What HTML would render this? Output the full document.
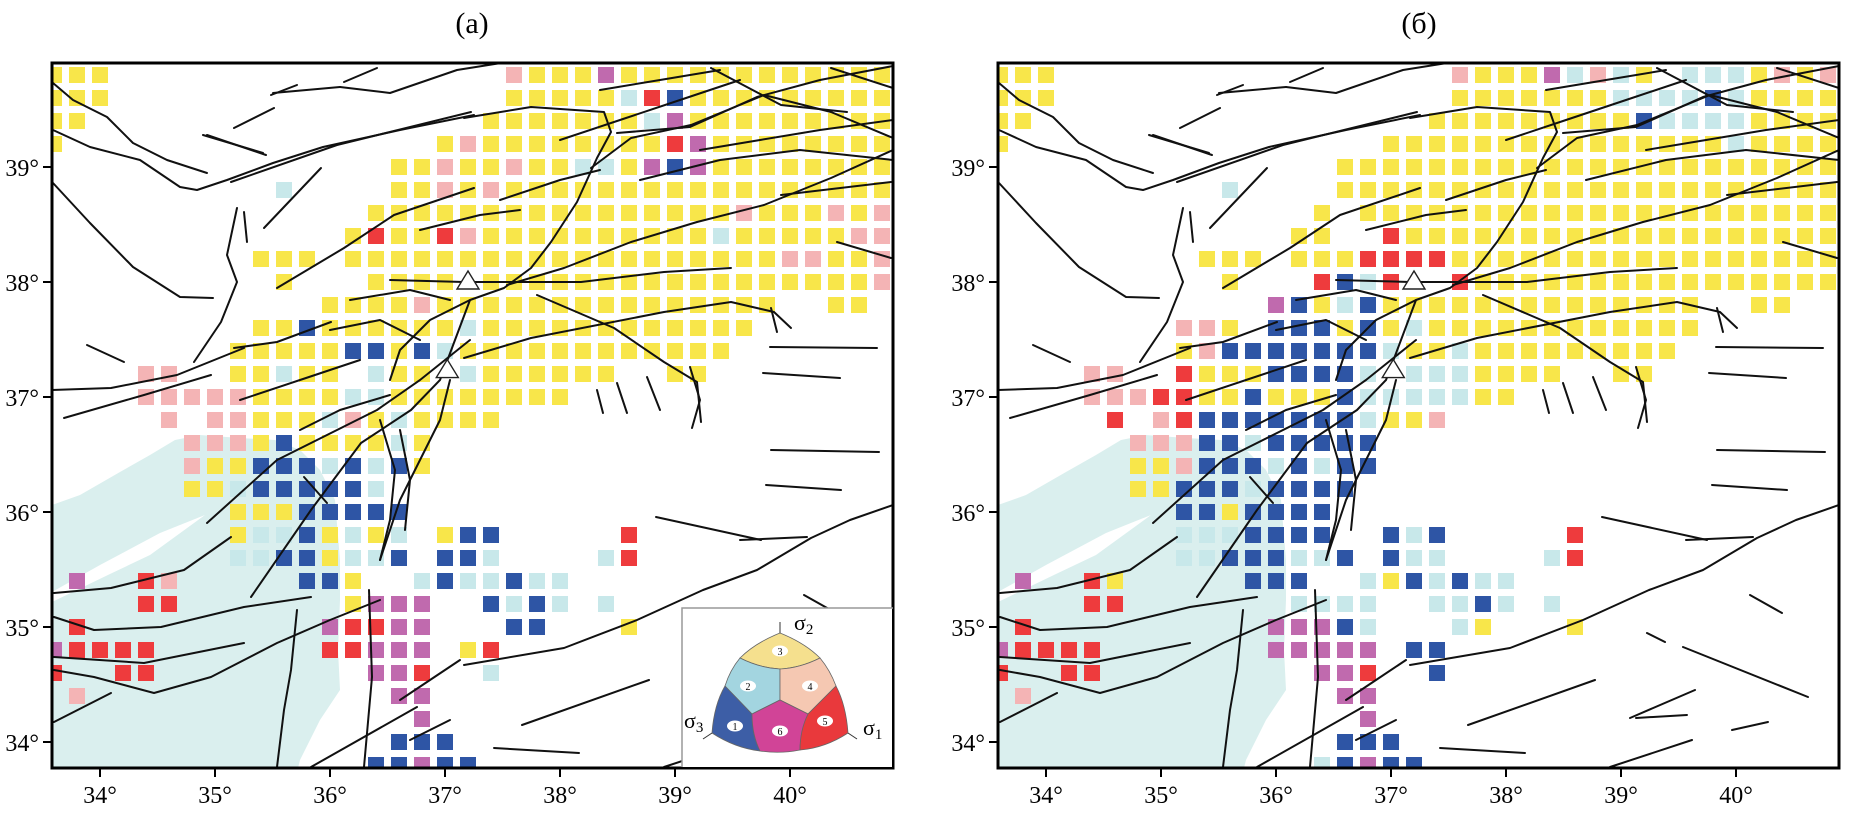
<!DOCTYPE html>
<html><head><meta charset="utf-8"><style>
html,body{margin:0;padding:0;background:#fff;}
svg{display:block;font-family:"Liberation Serif",serif;}
</style></head><body>
<svg id="chart" xmlns="http://www.w3.org/2000/svg" width="1855" height="813" viewBox="0 0 1855 813">
<defs>
<clipPath id="clipA"><rect x="52" y="63" width="841" height="705"/></clipPath>
<clipPath id="clipB"><rect x="998" y="63" width="841" height="705"/></clipPath>
</defs>
<text x="472" y="33" font-size="30" text-anchor="middle">(а)</text>
<text x="1419" y="33" font-size="30" text-anchor="middle">(б)</text>
<g id="panelA" clip-path="url(#clipA)"></g>
<g id="panelB" clip-path="url(#clipB)"></g>
<g id="axes"></g>
</svg>
<script>
// ---- data ----
const lonStart = 33.6;
const lonStep = 0.2;
const lats = [39.8,39.6,39.4,39.2,39.0,38.8,38.6,38.4,38.2,38.0,37.8,37.6,37.4,37.2,37.0,36.8,36.6,36.4,36.2,36.0,35.8,35.6,35.4,35.2,35.0,34.8,34.6,34.4,34.2,34.0,33.8];
// codes: B blue, L light cyan, Y yellow, P pink, R red, M magenta
const rowsA = [
"YYY.................PYYYMYYYYYYYYYYYY",
"YYY.................YYYYYLRBYYYYYYYYY",
"YY.................YYYYYYYLMYYYYYYYYY",
"Y................YPYYYYYYYYRMYYYYYYYY",
"...............YYPYYPYYLLYMBMYYYYYYYY",
"..........L....YYPYPYYYYYYYYYYYYYYYYY",
"..............YYYYYYYYYYYYYYYYPYYYPYP",
".............YRYYRPYYYYYYYYYYLYYYYYPP",
".........YYY.YYYYYYYYYYYYYYYYYYYPPYYP",
"..........Y...YYYY.YYYYYYYYYYYYYYYYYP",
"............YYYYPYYYYYYYYYYYYYYY..YY.",
".........YYBYYYYYYLYYYYYYYYYYYY......",
"........YYYYYBBYBLYYYYYYYYYYYY.......",
"....PP..YYLYY.LYY.LYYYYYY..YY........",
"....PPPPPYYYYLLYYYYYYYY..............",
".....P.PPYYYLPYLYYYY.................",
"......PPPYBYYYYLY....................",
"......PYYBBBLBLBY....................",
"......YYLBBBBBL......................",
"........YYYBBBBB.....................",
"........YLLBYLYL.YBB.....R...........",
"........LLBBYLLB.BBL....LR...........",
".M..RP.....BBY..LBLLBLL..............",
"....RR.......YMMM..BLBL.L............",
".R..........MRRMM...BB...Y...........",
"MRRRR.......RRMMM.YR.................",
"R..RR.........MMR..L.................",
".P.............MM....................",
"................M....................",
"...............BBB...................",
"..............BBMBB.................."
];
const rowsB = [
"YYY.................PYYYMLPLY.LLLYPYP",
"YYY.................YYYYYYYLLLLBLYYYY",
"YY.................YYYYYYYYYBLLLLYYYY",
"Y................YYYYYYYYYYYYYYYLYYYY",
"...............YYYYYYYYYYYYYYYYYYYYYY",
"..........L....YYYYYYYYYYYYYYYYYYYYYY",
"..............Y.YYYYYYYYYYYYYYYYYYYYY",
".............YY..RYYYYYYYYYYYYYYYYYYY",
".........YYY.YYYRRRRYYYYYYYYYYYYYYYYY",
"..........Y...RBLR..RYYYYYYYYYYYYYYYY",
"............MBYLBYYYYYYYYYYYYYY..YY..",
"........PPY.BBBYBYLYYYYYYYYYYYY......",
"........YPBBBBBBBLYYLYYYYYYYYY.......",
"....PP..RYYYBBBBL.LLLYYYY..YY........",
"....PPPRRYYBYYYBLLLLLYY..............",
".....R.PRBBBBBBBLYYP.................",
"......PPPBBLBBBBB....................",
"......YYPBBBLBLBB....................",
"......YYBBBLBBBB.....................",
"........BBYBBBB......................",
"........LLLBBBB..BLB.....R...........",
"........LLBBBLLB.BLL....LR...........",
".M..RY.....BBB..LYBLBLL..............",
"....RR.......LLLL..LLBL.L............",
".R..........MMMBL...LY...Y...........",
"MRRRR.......MMMMM.BB.................",
"R..RR.........MMR..B.................",
".P.............MM....................",
"................M....................",
"...............BBB...................",
"..............LBMBB.................."
];
const xTicks = [34,35,36,37,38,39,40];
const yTicks = [34,35,36,37,38,39];
const stations = [[37.2,38.0],[37.02,37.23]];
const colors = {B:"#2e55a5",L:"#c8e8ea",Y:"#f8e64a",P:"#f4b4b5",R:"#ee3b3d",M:"#c06aae"};

const panels = [{off:0,g:"panelA",name:"a"},{off:946,g:"panelB",name:"b"}];
function xS(lon,off){return 514+(lon-37.6)*115+off;}
function yS(lat){return 167+(39-lat)*115;}
const NS="http://www.w3.org/2000/svg";
function mk(tag,attrs,parent){const e=document.createElementNS(NS,tag);for(const k in attrs)e.setAttribute(k,attrs[k]);parent.appendChild(e);return e;}

const faults = [
[[53,83],[73,100],[107,117],[133,143],[167,160],[207,173]],
[[53,130],[90,147],[140,160],[180,187],[197,190],[227,180],[273,163],[323,147],[400,130],[474,115]],
[[53,183],[90,223],[133,267],[180,297],[213,298]],
[[237,208],[227,255],[237,282],[221,322],[194,362]],
[[244,212],[247,242]],[[264,228],[321,168]],[[207,135],[266,155]],
[[231,182],[337,145],[471,112]],[[234,128],[274,108]],[[271,95],[297,85]],[[344,82],[377,68]],
[[277,288],[344,248],[394,215],[474,188]],[[234,348],[277,342],[331,322]],[[87,345],[124,362]],
[[51,390],[111,388],[177,375],[244,348]],[[64,418],[144,395],[211,375]],
[[390,280],[464,282],[524,282],[581,282],[664,272],[731,268]],
[[507,285],[564,268],[631,242],[697,222],[764,205],[831,178],[893,150]],
[[464,118],[531,107],[604,112],[611,132],[597,158],[577,202],[551,242],[531,268],[504,288],[470,300],[430,320],[400,350],[390,380]],
[[591,168],[631,138],[691,125],[764,95],[831,112],[893,138]],
[[711,68],[781,105],[847,112]],[[831,68],[893,88]],
[[537,295],[614,328],[664,362],[697,382],[701,422]],
[[464,358],[531,338],[664,312],[731,302],[774,312],[791,328]],
[[771,308],[777,332]],[[781,195],[891,182]],[[837,242],[891,258]],
[[340,87],[390,93],[457,70],[520,60]],[[273,93],[340,87]],
[[617,133],[690,127],[757,97],[820,80],[893,66]],
[[203,135],[263,153]],
[[54,593],[111,588],[184,570],[231,537]],
[[54,617],[94,630],[161,627],[244,607],[311,597]],
[[54,657],[144,663],[244,643]],
[[54,670],[94,677],[154,693],[211,677],[277,643],[330,620],[380,600]],
[[54,722],[111,693]],
[[297,610],[291,670],[284,710],[277,767]],
[[369,590],[372,677],[364,767]],[[417,707],[311,767]],
[[304,477],[327,503]],[[207,523],[277,460],[377,410],[420,380],[470,340]],
[[251,597],[311,510],[361,443],[411,410],[440,380],[470,300]],
[[380,560],[400,500],[420,460],[440,420],[450,380]],
[[656,517],[761,540]],[[771,450],[879,452]],[[766,485],[841,490]],[[804,595],[836,613]],
[[737,647],[862,697]],[[701,633],[719,642]],[[522,725],[649,680]],[[684,718],[749,690]],
[[741,715],[690,718]],[[786,730],[822,722]],[[664,767],[746,740]],[[494,748],[579,753]],
[[464,665],[564,648],[637,620],[703,590],[757,570],[811,538],[850,520],[893,505]],
[[597,390],[603,413]],[[617,383],[627,413]],[[647,377],[660,410]],[[690,367],[700,400],[692,428]],
[[770,347],[877,348]],[[763,373],[840,378]],[[740,540],[807,537]],
[[400,700],[430,680],[460,660]],[[410,740],[450,720]],
[[600,90],[660,80],[720,70]],[[560,140],[620,120],[680,100],[740,80]],
[[700,150],[760,140],[820,130],[893,120]],[[640,180],[720,160],[800,150],[893,160]],
[[350,300],[410,290],[450,300]],[[330,330],[380,320],[420,340]],
[[500,200],[560,180],[600,170]],[[420,230],[480,215],[520,210]],
[[240,400],[300,380],[360,360]],[[300,430],[340,410],[390,395]],
[[380,420],[395,470],[390,520],[380,560]],[[400,430],[410,480],[405,530]]
];

panels.forEach(p=>{
  const g=document.getElementById(p.g);
  const sea=[[52,505],[80,495],[120,472],[150,455],[175,440],[200,435],[240,438],[275,440],[300,450],[320,470],[335,500],[340,560],[340,600],[338,650],[340,690],[320,720],[300,760],[298,768],[52,768]];
  const s=mk("polygon",{points:sea.map(q=>(q[0]+p.off)+","+q[1]).join(" "),fill:"#daefee"},g);
  
  
  const w=mk("polygon",{points:[[52,592],[100,565],[160,533],[205,515],[150,555],[110,574],[52,602]].map(q=>(q[0]+p.off)+","+q[1]).join(" "),fill:"#fff"},g);
  
  
  const rows=p.name==="a"?rowsA:rowsB;
  rows.forEach((row,ri)=>{
    for(let i=0;i<row.length;i++){
      const c=row[i]; if(!colors[c]) continue;
      const lon=lonStart+i*lonStep, lat=lats[ri];
      const r=mk("rect",{x:(xS(lon,p.off)-8).toFixed(1),y:(yS(lat)-8).toFixed(1),width:16,height:16,fill:colors[c]},g);
      
      
    }
  });
  const fg=mk("g",{fill:"none",stroke:"#111","stroke-width":"2","stroke-linejoin":"round","stroke-linecap":"round"},g);
  
  
  faults.forEach(f=>{mk("polyline",{points:f.map(q=>(q[0]+p.off)+","+q[1]).join(" ")},fg);});
  stations.forEach(st=>{
    const cx=xS(st[0],p.off), cy=yS(st[1]);
    const t=mk("polygon",{points:`${cx},${cy-11} ${cx-11},${cy+7} ${cx+11},${cy+7}`,fill:"#fff",stroke:"#222","stroke-width":"1.4"},g);
    
    
  });
  const ax=document.getElementById("axes");
  const fr=mk("rect",{x:52+p.off,y:63,width:841,height:705,fill:"none",stroke:"#000","stroke-width":"3"},ax);
  
  
  xTicks.forEach(v=>{
    const x=xS(v,p.off);
    mk("line",{x1:x,y1:768,x2:x,y2:777,stroke:"#000","stroke-width":"2"},ax);
    const t=mk("text",{x:x,y:803,"font-size":"24","text-anchor":"middle"},ax);
    t.textContent=v+"°";
    
    
  });
  yTicks.forEach(v=>{
    const y=yS(v);
    mk("line",{x1:52+p.off-9,y1:y,x2:52+p.off,y2:y,stroke:"#000","stroke-width":"2"},ax);
    const t=mk("text",{x:52+p.off-13,y:y+9,"font-size":"24","text-anchor":"end"},ax);
    t.textContent=v+"°";
    
    
  });
});
</script>
<svg style="position:absolute;left:0;top:0" width="1855" height="813" viewBox="0 0 1855 813">
  <rect x="682" y="608" width="210" height="159" fill="#fff"/>
  <polyline points="893,608 682,608 682,767" fill="none" stroke="#999" stroke-width="1.5"/>
  <g stroke="#666" stroke-width="0.8">
    <path d="M780,633 Q805,643 820,658 Q800,668 780,669 Q760,668 740,658 Q755,643 780,633Z" fill="#f5e08e"/>
    <path d="M740,658 Q760,668 780,669 L780,700 L752,714 L725,686 Q730,670 740,658Z" fill="#a3d5e0"/>
    <path d="M820,658 Q800,668 780,669 L780,700 L808,714 L836,686 Q830,670 820,658Z" fill="#f5c8b2"/>
    <path d="M725,686 Q714,705 712,733 Q735,748 760,751 Q752,735 752,714Z" fill="#3d5ea6"/>
    <path d="M752,714 L780,700 L808,714 Q800,735 800,750 Q780,754 760,751 Q752,735 752,714Z" fill="#d14497"/>
    <path d="M808,714 L836,686 Q846,705 848,733 Q825,748 800,750 Q800,730 808,714Z" fill="#e9393c"/>
  </g>
  <g fill="#fff"><ellipse cx="780" cy="651" rx="8" ry="5.5"/><ellipse cx="748" cy="686" rx="8" ry="5.5"/><ellipse cx="810" cy="686" rx="8" ry="5.5"/><ellipse cx="735" cy="726" rx="8" ry="5.5"/><ellipse cx="780" cy="731" rx="8" ry="5.5"/><ellipse cx="825" cy="721" rx="8" ry="5.5"/></g>
  <g font-family="Liberation Serif,serif" font-size="10" text-anchor="middle">
    <text x="780" y="655">3</text><text x="748" y="690">2</text><text x="810" y="690">4</text><text x="735" y="730">1</text><text x="780" y="735">6</text><text x="825" y="725">5</text>
  </g>
  <g stroke="#333" stroke-width="1"><line x1="780" y1="633" x2="780" y2="622"/><line x1="712" y1="733" x2="703" y2="739"/><line x1="848" y1="733" x2="857" y2="739"/></g>
  <g font-family="Liberation Serif,serif" font-size="22">
    <text x="794" y="630">σ<tspan font-size="15" dy="4">2</tspan></text>
    <text x="684" y="728">σ<tspan font-size="15" dy="4">3</tspan></text>
    <text x="863" y="735">σ<tspan font-size="15" dy="4">1</tspan></text>
  </g>
</svg>
</body></html>
